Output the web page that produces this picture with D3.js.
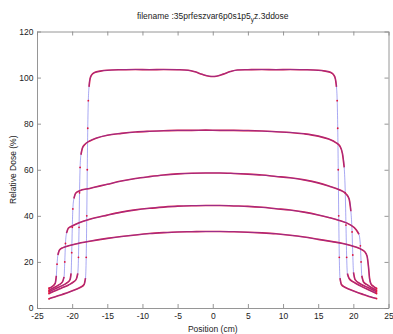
<!DOCTYPE html>
<html>
<head>
<meta charset="utf-8">
<script src="https://cdn.jsdelivr.net/npm/d3@7"></script>
<style>
    body { margin: 0; background: #fff; }
    svg { display: block; font-family: "Liberation Sans", Arial, sans-serif; }
</style>
</head>
<body>
<svg></svg>
<script>
const WIDTH = 393;
const HEIGHT = 334;
const MARGIN = { left: 37, right: 4.5, top: 31.5, bottom: 26 };

// x ticks / y ticks
const xTicks = [-25, -20, -15, -10, -5, 0, 5, 10, 15, 20, 25];
const yTicks = [0, 20, 40, 60, 80, 100, 120];

// dose profiles, [position (cm), relative dose (%)]
const profile1 = [[-23.3, 4.0], [-22.5, 4.8], [-21.5, 5.8], [-20.5, 6.8], [-19.5, 8.0], [-18.8, 9.0], [-18.3, 10.2],
    [-18.1, 13], [-18.0, 22], [-17.92, 40], [-17.85, 60], [-17.78, 78], [-17.7, 90], [-17.6, 96], [-17.45, 99.5],
    [-17.2, 101.3], [-16.8, 102.2], [-16, 102.8], [-15, 103.2], [-13, 103.4], [-11, 103.5], [-9, 103.4], [-7, 103.5],
    [-5, 103.4], [-3.5, 103.2], [-2.5, 102.5], [-1.5, 101.4], [-0.5, 100.6], [0, 100.5], [0.5, 100.6], [1.5, 101.5],
    [2.5, 102.6], [3.5, 103.3], [5, 103.4], [7, 103.5], [9, 103.4], [11, 103.5], [13, 103.4], [15, 103.2], [16, 102.8],
    [16.8, 102.2], [17.2, 101.2], [17.45, 99.3], [17.6, 96], [17.7, 90], [17.78, 78], [17.85, 60], [17.92, 40],
    [18.0, 22], [18.1, 13], [18.3, 10.2], [18.8, 9.0], [19.5, 8.0], [20.5, 6.8], [21.5, 5.8], [22.5, 4.8], [23.3, 4.1]];

const profile2 = [[-23.3, 6.3], [-22.5, 7.4], [-21.5, 8.7], [-20.5, 10.0], [-19.8, 11.3], [-19.4, 12.6], [-19.2, 15],
    [-19.1, 22], [-19.02, 35], [-18.95, 50], [-18.87, 61], [-18.75, 66.5], [-18.55, 69.3], [-18.2, 71], [-17.5, 72.5],
    [-16.5, 73.8], [-15, 75], [-13, 75.8], [-11, 76.4], [-9, 76.7], [-7, 76.9], [-5, 77.1], [-3, 77.1], [-1, 77.2],
    [1, 77.1], [3, 77.1], [5, 77], [7, 76.8], [9, 76.5], [11, 76.2], [13, 75.6], [15, 74.6], [16.5, 73.3], [17.5, 71.8],
    [18.1, 70.2], [18.45, 67], [18.7, 61], [18.85, 50], [18.95, 36], [19.05, 22], [19.15, 15], [19.4, 12.8],
    [20, 11.3], [21, 9.6], [22, 8.1], [23.3, 6.3]];

const profile3 = [[-23.3, 7.0], [-22.5, 8.2], [-21.5, 9.6], [-20.7, 11.0], [-20.3, 12.3], [-20.15, 15], [-20.06, 24],
    [-19.98, 35], [-19.9, 43], [-19.75, 47.5], [-19.5, 49.8], [-19, 50.8], [-17.5, 51.9], [-16, 53.0], [-15, 53.7],
    [-13, 55.1], [-11, 56.2], [-9, 57.0], [-7, 57.7], [-5, 58.2], [-3, 58.5], [-1, 58.6], [1, 58.6], [3, 58.4], [5, 58.1],
    [7, 57.7], [9, 57.1], [11, 56.5], [13, 55.6], [15, 54.3], [16.5, 52.9], [18, 51.3], [19, 49.4], [19.4, 47.3],
    [19.65, 42], [19.82, 33], [19.92, 23], [20.02, 15.5], [20.25, 12.3], [21, 10.5], [22, 9.0], [23.3, 7.0]];

const profile4 = [[-23.3, 7.7], [-22.6, 8.8], [-21.9, 10.0], [-21.4, 11.2], [-21.15, 13.5], [-21.05, 20], [-20.95, 28],
    [-20.8, 32.5], [-20.55, 34.6], [-20, 35.6], [-19, 37.0], [-17.5, 38.5], [-15, 40.3], [-13, 41.6], [-11, 42.6],
    [-9, 43.3], [-7, 43.8], [-5, 44.2], [-3, 44.4], [-1, 44.5], [1, 44.5], [3, 44.3], [5, 44.1], [7, 43.7], [9, 43.1],
    [11, 42.5], [13, 41.6], [15, 40.4], [16.5, 39.3], [18, 38.0], [19.5, 36.2], [20.4, 34], [20.8, 32], [21.0, 27],
    [21.1, 20], [21.2, 14], [21.45, 11.3], [22, 10.0], [22.6, 8.8], [23.3, 7.7]];

const profile5 = [[-23.3, 8.6], [-22.8, 9.4], [-22.4, 10.8], [-22.25, 14], [-22.15, 19], [-22.03, 23], [-21.8, 25.2],
    [-21.3, 26.2], [-20.5, 27], [-19.5, 27.8], [-17.5, 29], [-15, 30.2], [-13, 31.0], [-11, 31.7], [-9, 32.3],
    [-7, 32.7], [-5, 33], [-3, 33.1], [-1, 33.2], [1, 33.2], [3, 33.1], [5, 32.9], [7, 32.6], [9, 32.2], [11, 31.6],
    [13, 30.8], [15, 29.8], [17, 28.8], [18.5, 28], [19.5, 27.2], [20.9, 25.8], [21.6, 24.5], [21.95, 22.5],
    [22.15, 18], [22.3, 13], [22.5, 10.5], [22.9, 9.3], [23.3, 8.5]];

const profiles = [profile1, profile2, profile3, profile4, profile5];

let svg = d3.select("svg")
    .attr("width", WIDTH)
    .attr("height", HEIGHT);

let x = d3.scaleLinear()
    .domain([-25, 25])
    .range([MARGIN.left, WIDTH - MARGIN.right]);

let y = d3.scaleLinear()
    .domain([0, 120])
    .range([HEIGHT - MARGIN.bottom, MARGIN.top]);

// plain hyphen for negatives, like the original
const plain = (d) => String(d);

function drawAxes() {
    let axes = svg.append('g');

    // matlab style: ticks inside, on all four sides
    axes.append('g')
        .attr("transform", `translate(0, ${y(0)})`)
        .call(d3.axisBottom(x).tickValues(xTicks).tickFormat(plain).tickSize(-4).tickSizeOuter(0).tickPadding(5));
    axes.append('g')
        .attr("transform", `translate(0, ${y(120)})`)
        .call(d3.axisTop(x).tickValues(xTicks).tickSize(-4).tickSizeOuter(0).tickFormat(""));
    axes.append('g')
        .attr("transform", `translate(${x(-25)}, 0)`)
        .call(d3.axisLeft(y).tickValues(yTicks).tickFormat(plain).tickSize(-4).tickSizeOuter(0).tickPadding(3.5));
    axes.append('g')
        .attr("transform", `translate(${x(25)}, 0)`)
        .call(d3.axisRight(y).tickValues(yTicks).tickSize(-4).tickSizeOuter(0).tickFormat(""));

    axes.selectAll("path.domain, line")
        .attr("stroke", "#8a8a8a")
        .attr("stroke-width", 0.9);
    axes.selectAll("text")
        .attr("font-family", "Liberation Sans, Arial, sans-serif")
        .attr("font-size", 8.5)
        .attr("fill", "#222");

    let cx = (x(-25) + x(25)) / 2;

    let title = svg.append('text')
        .attr("x", cx)
        .attr("y", 19)
        .attr("text-anchor", "middle")
        .attr("font-size", 8.5)
        .attr("fill", "#222");
    title.append('tspan').text("filename :35prfeszvar6p0s1p5");
    title.append('tspan').attr("font-size", 6.5).attr("dy", 2.5).text("y");
    title.append('tspan').attr("dy", -2.5).text("z.3ddose");

    svg.append('text')
        .attr("x", cx)
        .attr("y", 332)
        .attr("text-anchor", "middle")
        .attr("font-size", 8.5)
        .attr("fill", "#222")
        .text("Position (cm)");

    svg.append('text')
        .attr("transform", `translate(16, ${(y(0) + y(120)) / 2}) rotate(-90)`)
        .attr("text-anchor", "middle")
        .attr("font-size", 8.5)
        .attr("fill", "#222")
        .text("Relative Dose (%)");
}

function drawProfiles() {
    let g = svg.append('g');

    const line = d3.line()
        .x((d) => x(d[0]))
        .y((d) => y(d[1]))
        .curve(d3.curveMonotoneX);

    profiles.forEach((data) => {
        // points on the flat part: the markers sit so close they merge into one red line
        const slope = (i, j) => Math.abs((data[j][1] - data[i][1]) / (data[j][0] - data[i][0]));
        const flat = data.map((d, i) => {
            let left = i > 0 ? slope(i - 1, i) : 0;
            let right = i < data.length - 1 ? slope(i, i + 1) : 0;
            return Math.min(left, right) < 25;
        });

        g.append("path")
            .attr("d", line.defined((d, i) => flat[i])(data))
            .attr("fill", "none")
            .attr("stroke", "#e0143c")
            .attr("stroke-width", 1.6);
        line.defined(() => true);

        g.append("path")
            .attr("d", line(data))
            .attr("fill", "none")
            .attr("stroke", "#4a4ae4")
            .attr("stroke-opacity", 0.75)
            .attr("stroke-width", 0.65);

        g.selectAll(null)
            .data(data.filter((d, i) => !flat[i] || i === 0 || i === data.length - 1))
            .enter()
            .append("circle")
            .attr("cx", (d) => x(d[0]))
            .attr("cy", (d) => y(d[1]))
            .attr("r", 0.9)
            .attr("fill", "#e0143c");
    });
}

drawAxes();
drawProfiles();
</script>
</body>
</html>
